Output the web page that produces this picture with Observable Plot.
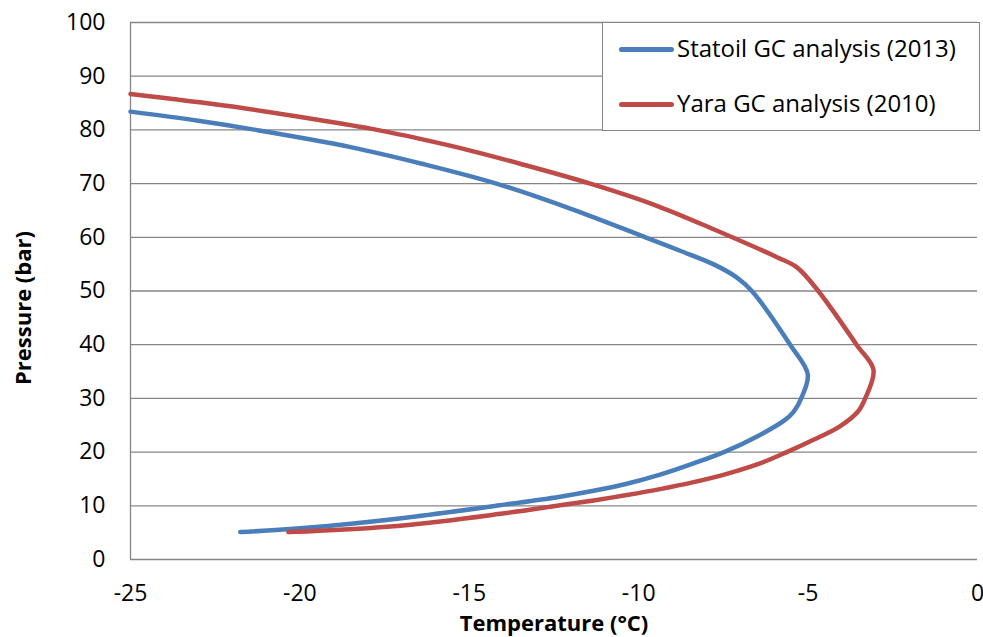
<!DOCTYPE html>
<html>
<head>
<meta charset="utf-8">
<script src="https://cdn.jsdelivr.net/npm/d3@7"></script>
<script src="https://cdn.jsdelivr.net/npm/@observablehq/plot@0.6"></script>
<style>
  html, body { margin: 0; padding: 0; background: #fff; }
  #wrap { position: relative; width: 983px; height: 637px; font-family: "Open Sans", Lato, sans-serif; }
  #legend {
    position: absolute; left: 602px; top: 22px; width: 376px; height: 107px;
    border: 1px solid #868686; background: #fff; box-sizing: content-box;
  }
  .item { position: absolute; left: 0; height: 30px; }
  .swatch { position: absolute; left: 16px; width: 55px; height: 5px; border-radius: 3px; }
  .name { position: absolute; left: 74px; font-size: 24px; white-space: nowrap; color: #000; line-height: 30px; }
</style>
</head>
<body>
<div id="wrap"></div>
<script>
// Phase envelope of the two gas analyses: temperature (°C) vs pressure (bar)
const seriesNames = ["Statoil GC analysis (2013)", "Yara GC analysis (2010)"];
const seriesColors = ["#4A7EBB", "#BE4B48"];

const statoilTemp = [-25, -23.0, -21.3, -18.5, -16.4, -14.2, -12.0, -9.8, -8.78, -7.8, -7.1, -6.66, -5.53, -5.01, -5.19, -5.43, -5.7, -6.42, -7.45, -8.38, -9.37, -10.35, -11.33, -12.32, -14.1, -17.0, -20.0, -21.76];
const statoilPres = [83.4, 81.7, 80.0, 76.8, 73.7, 70.0, 65.3, 60.0, 57.5, 55.0, 52.5, 50.0, 40.0, 34.5, 30.2, 27.5, 25.9, 23.2, 20.1, 17.9, 15.8, 14.1, 12.8, 11.7, 10.1, 7.7, 5.8, 5.1];

const yaraTemp = [-25, -22.05, -19.89, -17.72, -16.15, -14.97, -13.5, -11.43, -9.56, -7.79, -5.92, -5.33, -4.7, -3.57, -3.07, -3.3, -3.52, -4.06, -4.84, -5.63, -6.42, -7.4, -8.38, -9.37, -10.35, -11.33, -12.32, -14.09, -17.04, -20.34];
const yaraPres = [86.7, 84.4, 82.3, 80.0, 77.9, 76.15, 73.7, 70.0, 66.1, 61.5, 56.3, 54.4, 50.0, 40.0, 35.3, 30.2, 27.6, 24.8, 22.3, 20.0, 17.9, 15.95, 14.4, 13.1, 12.0, 11.0, 10.1, 8.5, 6.3, 5.1];

const xTicks = [-25, -20, -15, -10, -5, 0];
const yTicks = [0, 10, 20, 30, 40, 50, 60, 70, 80, 90, 100];

const statoil = statoilTemp.map((t, i) => ({t, p: statoilPres[i]}));
const yara = yaraTemp.map((t, i) => ({t, p: yaraPres[i]}));

const chart = Plot.plot({
  width: 983,
  height: 637,
  marginLeft: 130,
  marginRight: 6,
  marginTop: 22,
  marginBottom: 78,
  style: {fontFamily: "'Open Sans', Lato, sans-serif", fontSize: "23px", color: "#000", background: "#fff"},
  x: {domain: [-25, 0]},
  y: {domain: [0, 100]},
  marks: [
    Plot.ruleY(yTicks, {stroke: "#868686", strokeWidth: 1.3, strokeOpacity: 1}),
    Plot.ruleX([xTicks[0]], {y1: 0, y2: 100, stroke: "#868686", strokeWidth: 1.3}),
    Plot.axisY({ticks: yTicks, tickSize: 0, tickPadding: 25, tickFormat: d => String(d), label: null, fontSize: 23}),
    Plot.axisX({ticks: xTicks, tickSize: 0, tickPadding: 25, tickFormat: d => String(d), label: null, fontSize: 23}),
    Plot.line(statoil, {x: "t", y: "p", stroke: seriesColors[0], strokeWidth: 4.5, curve: "catmull-rom", strokeLinecap: "round", strokeLinejoin: "round"}),
    Plot.line(yara, {x: "t", y: "p", stroke: seriesColors[1], strokeWidth: 4.5, curve: "catmull-rom", strokeLinecap: "round", strokeLinejoin: "round"}),
    Plot.text(["Temperature (°C)"], {frameAnchor: "bottom", lineAnchor: "bottom", textAnchor: "middle", dy: 71, fontWeight: "bold", fontSize: 22}),
    Plot.text(["Pressure (bar)"], {frameAnchor: "left", textAnchor: "middle", rotate: -90, dx: -107, dy: 17, fontWeight: "bold", fontSize: 22})
  ]
});

const wrap = document.getElementById("wrap");
wrap.appendChild(chart);

// Legend box inside the upper right of the plot area
const legend = document.createElement("div");
legend.id = "legend";
seriesNames.forEach((name, i) => {
  const item = document.createElement("div");
  item.className = "item";
  item.style.top = (i === 0 ? 11 : 66) + "px";
  const sw = document.createElement("div");
  sw.className = "swatch";
  sw.style.background = seriesColors[i];
  sw.style.top = "13px";
  const label = document.createElement("div");
  label.className = "name";
  label.textContent = name;
  label.style.top = "-1px";
  item.appendChild(sw);
  item.appendChild(label);
  legend.appendChild(item);
});
wrap.appendChild(legend);
</script>
</body>
</html>
